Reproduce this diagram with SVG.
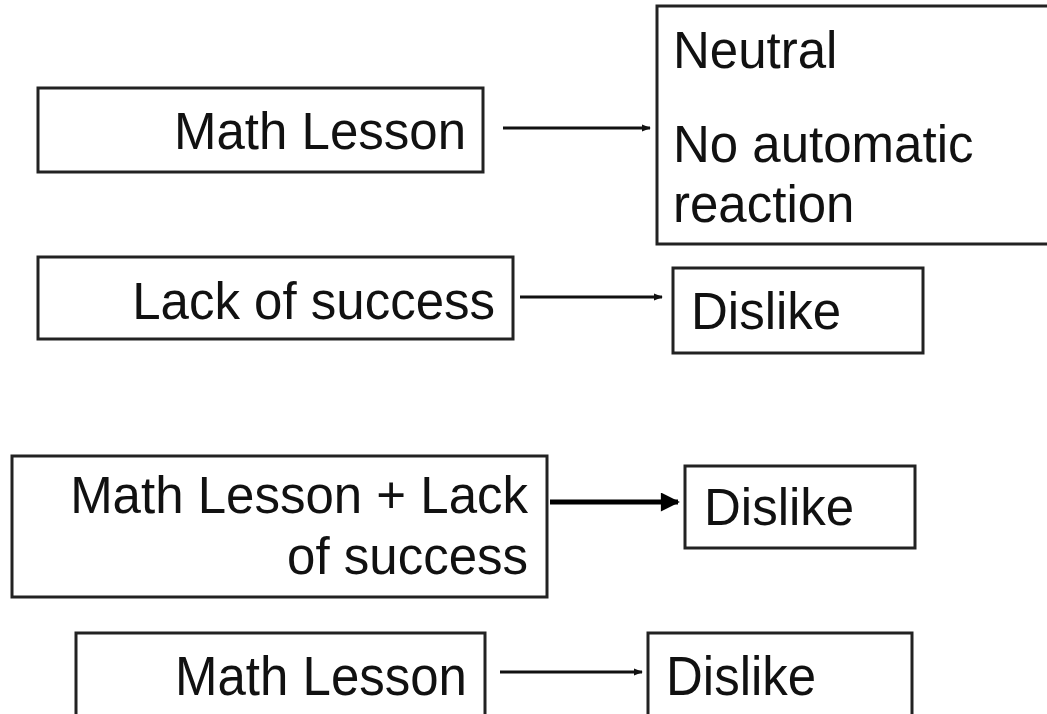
<svg xmlns="http://www.w3.org/2000/svg" width="1047" height="714" viewBox="0 0 1047 714">
  <style>
    .box { fill: #ffffff; stroke: #222222; stroke-width: 3; }
    .lbl { font-family: "Liberation Sans", Arial, sans-serif; font-size: 51px; fill: #111111; }
    .end { text-anchor: end; }
    .link { stroke: #111111; stroke-width: 3; fill: none; }
    .bold { stroke: #000000; stroke-width: 5; fill: none; }
  </style>
  <defs>
    <marker id="tip" viewBox="0 0 10 10" refX="9" refY="5" markerWidth="3" markerHeight="3" orient="auto" markerUnits="strokeWidth">
      <path d="M0,1 L10,5 L0,9 Z" fill="#111111"/>
    </marker>
    <marker id="tipBold" viewBox="0 0 10 10" refX="9" refY="5" markerWidth="5.4" markerHeight="3.8" orient="auto" markerUnits="strokeWidth">
      <path d="M0,0 L10,5 L0,10 Z" fill="#000000"/>
    </marker>
  </defs>

  <rect width="1047" height="714" fill="#ffffff"/>

  <g id="connectors">
    <line class="link" x1="503" y1="128" x2="650" y2="128" stroke="#444444" marker-end="url(#tip)"/>
    <line class="link" x1="520" y1="297" x2="662" y2="297" marker-end="url(#tip)"/>
    <line class="bold" x1="550" y1="502" x2="678" y2="502" marker-end="url(#tipBold)"/>
    <line class="link" x1="500" y1="672" x2="642" y2="672" marker-end="url(#tip)"/>
  </g>

  <g id="math-lesson-1">
    <rect class="box" x="38" y="88" width="445" height="84"/>
    <text class="lbl end" x="466" y="149">Math Lesson</text>
  </g>

  <g id="neutral">
    <rect class="box" x="657" y="6" width="420" height="238"/>
    <text class="lbl" x="673" y="68">Neutral</text>
    <text class="lbl" x="673" y="162">No automatic</text>
    <text class="lbl" x="673" y="222">reaction</text>
  </g>

  <g id="lack-of-success">
    <rect class="box" x="38" y="257" width="475" height="82"/>
    <text class="lbl end" x="495" y="319">Lack of success</text>
  </g>

  <g id="dislike-1">
    <rect class="box" x="673" y="268" width="250" height="85"/>
    <text class="lbl" x="691" y="329">Dislike</text>
  </g>

  <g id="combined">
    <rect class="box" x="12" y="456" width="535" height="141"/>
    <text class="lbl end" x="528" y="513">Math Lesson + Lack</text>
    <text class="lbl end" x="528" y="574">of success</text>
  </g>

  <g id="dislike-2">
    <rect class="box" x="685" y="466" width="230" height="82"/>
    <text class="lbl" x="704" y="525">Dislike</text>
  </g>

  <g id="math-lesson-2">
    <rect class="box" x="76" y="633" width="409" height="110"/>
    <text class="lbl end" transform="translate(0 695) scale(1 1.1)" x="467" y="0">Math Lesson</text>
  </g>

  <g id="dislike-3">
    <rect class="box" x="648" y="633" width="264" height="110"/>
    <text class="lbl" transform="translate(0 695) scale(1 1.1)" x="666" y="0">Dislike</text>
  </g>
</svg>
